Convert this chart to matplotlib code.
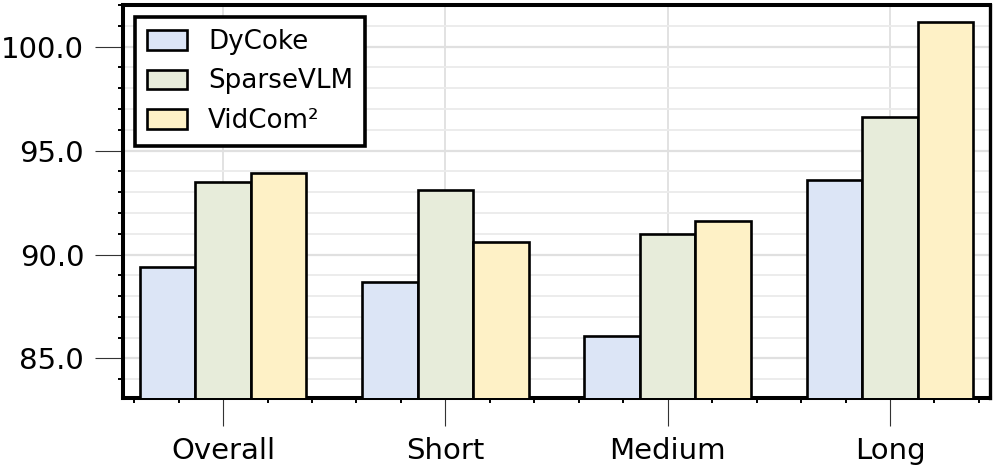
import numpy as np
import matplotlib.pyplot as plt
from matplotlib.ticker import MultipleLocator

categories = ["Overall", "Short", "Medium", "Long"]
methods = ["DyCoke", "SparseVLM", "VidCom²"]
dycoke = [89.4, 88.7, 86.1, 93.6]
sparsevlm = [93.5, 93.1, 91.0, 96.6]
vidcom = [93.9, 90.6, 91.6, 101.2]
colors = ["#dce5f6", "#e7ecda", "#fef1c6"]

fig = plt.figure(figsize=(9.97, 4.67), dpi=100)
ax = fig.add_axes([0.1234, 0.148, 0.8696, 0.841])

x = np.arange(len(categories))
width = 0.25
for i, (vals, name) in enumerate(zip([dycoke, sparsevlm, vidcom], methods)):
    ax.bar(x + (i - 1) * width, vals, width, color=colors[i],
           edgecolor="black", linewidth=1.9, label=name, zorder=3)

ax.set_xlim(-0.45, 3.45)
ax.set_ylim(83.1, 102.0)
ax.set_xticks(x)
ax.set_xticklabels(categories)
ax.xaxis.set_minor_locator(MultipleLocator(0.2))
ax.yaxis.set_major_locator(MultipleLocator(5))
ax.yaxis.set_minor_locator(MultipleLocator(1))
ax.yaxis.set_major_formatter(plt.FormatStrFormatter("%.1f"))

ax.grid(True, which="major", axis="y", color="#e0e0e0", linewidth=1.6, zorder=0)
ax.grid(True, which="minor", axis="y", color="#ebebeb", linewidth=1.3, zorder=0)
ax.grid(True, which="major", axis="x", color="#dddddd", linewidth=1.2, zorder=0)

ax.tick_params(which="major", length=20, width=0.8, color="#333333",
               labelsize=21, pad=8)
ax.tick_params(which="minor", length=3.6, width=1.4, color="black")

for side in ["left", "bottom", "top"]:
    ax.spines[side].set_linewidth(2.9)
ax.spines["right"].set_linewidth(2.4)

leg = ax.legend(loc="upper left", fontsize=18.8, fancybox=False, framealpha=1,
                edgecolor="black", borderaxespad=0.46, borderpad=0.45,
                labelspacing=0.52, handlelength=1.55, handleheight=0.78,
                handletextpad=0.8)
leg.get_frame().set_linewidth(2.6)

fig.savefig("out.png", dpi=100)
